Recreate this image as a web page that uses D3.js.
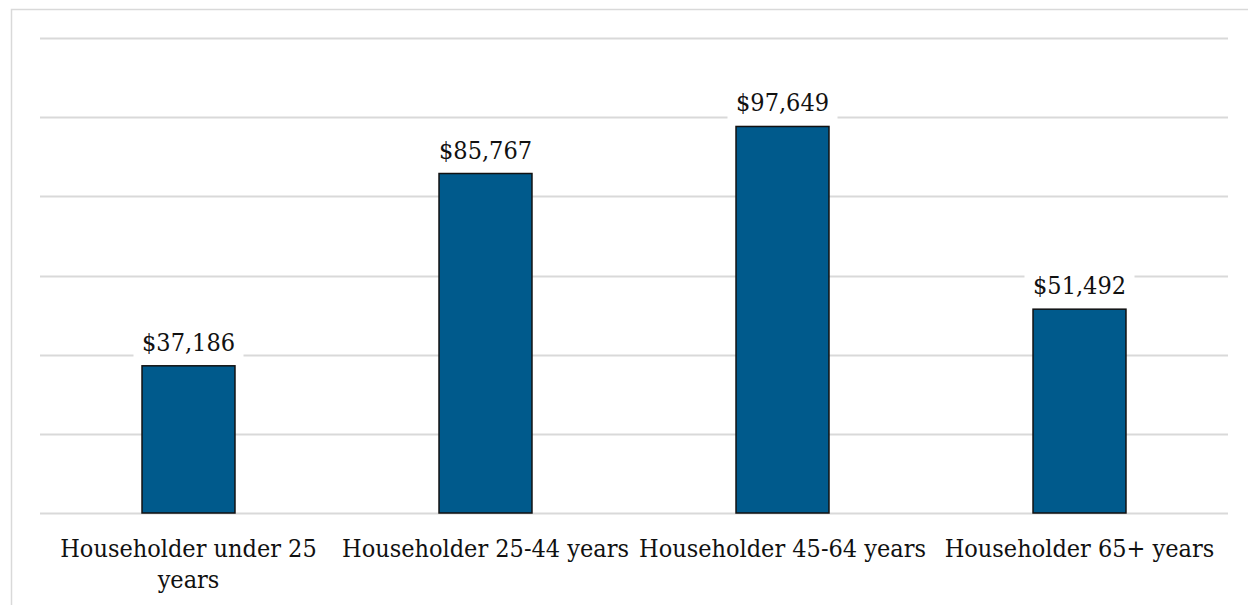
<!DOCTYPE html>
<html>
<head>
<meta charset="utf-8">
<script src="https://cdn.jsdelivr.net/npm/d3@7"></script>
<style>
  body { margin: 0; background: #fff; }
  svg { display: block; }
  text { font-family: "DejaVu Serif Condensed", "DejaVu Serif", serif; font-stretch: condensed; fill: #111; }
</style>
</head>
<body>
<div id="chart"></div>
<script>
// data
const categories = ["Householder under 25 years", "Householder 25-44 years", "Householder 45-64 years", "Householder 65+ years"];
const incomes = [37186, 85767, 97649, 51492];
const gridTicks = [0, 20000, 40000, 60000, 80000, 100000, 120000];

const W = 1248, H = 605;
const plot = { left: 40, right: 1228, top: 38, bottom: 513 };

const svg = d3.select("#chart").append("svg")
    .attr("width", W)
    .attr("height", H);

// light frame round the chart area
svg.append("path")
    .attr("d", `M11.5,${H} V9.5 H${W}`)
    .attr("fill", "none")
    .attr("stroke", "#d9d9d9")
    .attr("stroke-width", 1.5);

const x = d3.scaleBand()
    .domain(categories)
    .range([plot.left, plot.right])
    .padding(0);

const y = d3.scaleLinear()
    .domain([0, 120000])
    .range([plot.bottom, plot.top]);

// gridlines
svg.append("g")
    .selectAll("line")
    .data(gridTicks)
    .join("line")
    .attr("x1", plot.left)
    .attr("x2", plot.right)
    .attr("y1", d => Math.round(y(d)) + 0.5)
    .attr("y2", d => Math.round(y(d)) + 0.5)
    .attr("stroke", "#d9d9d9")
    .attr("stroke-width", 2);

const barW = x.bandwidth() * 0.313;

svg.append("g")
    .selectAll("rect")
    .data(incomes)
    .join("rect")
    .attr("x", (d, i) => x(categories[i]) + (x.bandwidth() - barW) / 2)
    .attr("y", d => y(d))
    .attr("width", barW)
    .attr("height", d => y(0) - y(d))
    .attr("fill", "#005a8c")
    .attr("stroke", "#111")
    .attr("stroke-width", 1.5);

// value labels with white box behind them
const fmt = d3.format("$,");
const labels = svg.append("g")
    .selectAll("g")
    .data(incomes)
    .join("g")
    .attr("transform", (d, i) => `translate(${x(categories[i]) + x.bandwidth() / 2},${y(d) - 24})`);

labels.append("rect")
    .attr("x", -55)
    .attr("y", -18)
    .attr("width", 110)
    .attr("height", 36)
    .attr("fill", "#fff");

labels.append("text")
    .attr("text-anchor", "middle")
    .attr("dy", "0.36em")
    .attr("font-size", 25)
    .text(d => fmt(d));

// category labels, wrapped to the band width
const catText = svg.append("g")
    .selectAll("text")
    .data(categories)
    .join("text")
    .attr("x", d => x(d) + x.bandwidth() / 2)
    .attr("y", 557)
    .attr("text-anchor", "middle")
    .attr("font-size", 25);

catText.each(function(d) {
    const t = d3.select(this);
    const words = d.split(" ");
    let line = [];
    let tspan = t.append("tspan").attr("x", t.attr("x")).attr("dy", 0);
    for (const w of words) {
        line.push(w);
        tspan.text(line.join(" "));
        if (tspan.node().getComputedTextLength() > x.bandwidth() - 4 && line.length > 1) {
            line.pop();
            tspan.text(line.join(" "));
            line = [w];
            tspan = t.append("tspan").attr("x", t.attr("x")).attr("dy", 31).text(w);
        }
    }
});
</script>
</body>
</html>
